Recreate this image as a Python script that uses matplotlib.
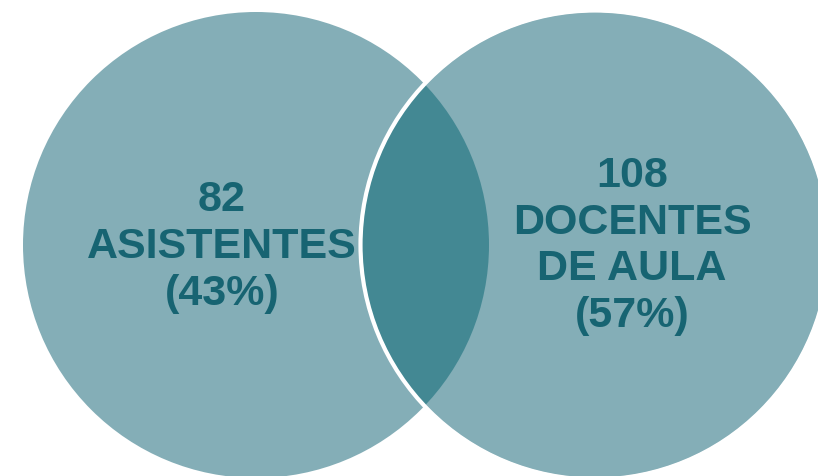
import matplotlib.pyplot as plt
from matplotlib.patches import Circle

# data
groups = ["ASISTENTES", "DOCENTES\nDE AULA"]
counts = [82, 108]
pcts = [round(100 * c / sum(counts)) for c in counts]

light = '#84AEB7'
dark = '#438893'
txt = '#176472'

plt.rcParams['font.family'] = ['Liberation Sans', 'DejaVu Sans']

fig = plt.figure(figsize=(8.18, 4.76), dpi=100)
ax = fig.add_axes([0, 0, 1, 1])
ax.set_xlim(0, 818)
ax.set_ylim(476, 0)
ax.set_aspect('equal')
ax.axis('off')

r = 233
c_left = (256, 245)
c_right = (595, 245)

left = Circle(c_left, r, fc=light, ec='none')
ax.add_patch(left)
ax.add_patch(Circle(c_right, r, fc=light, ec='none'))
# overlap
lens = Circle(c_right, r, fc=dark, ec='none')
ax.add_patch(lens)
lens.set_clip_path(left)
ax.add_patch(Circle(c_right, r + 1.5, fill=False, ec='white', lw=3))

# labels, one line at a time
def label(x, y0, lines, step=47):
    for i, s in enumerate(lines):
        ax.text(x, y0 + i * step, s, ha='center', va='center', fontsize=31,
                fontweight='bold', color=txt)

label(222, 200, [str(counts[0])] + groups[0].split('\n') + [f"({pcts[0]}%)"])
label(632, 176, [str(counts[1])] + groups[1].split('\n') + [f"({pcts[1]}%)"], step=46.5)

fig.savefig('out.png', dpi=100)
